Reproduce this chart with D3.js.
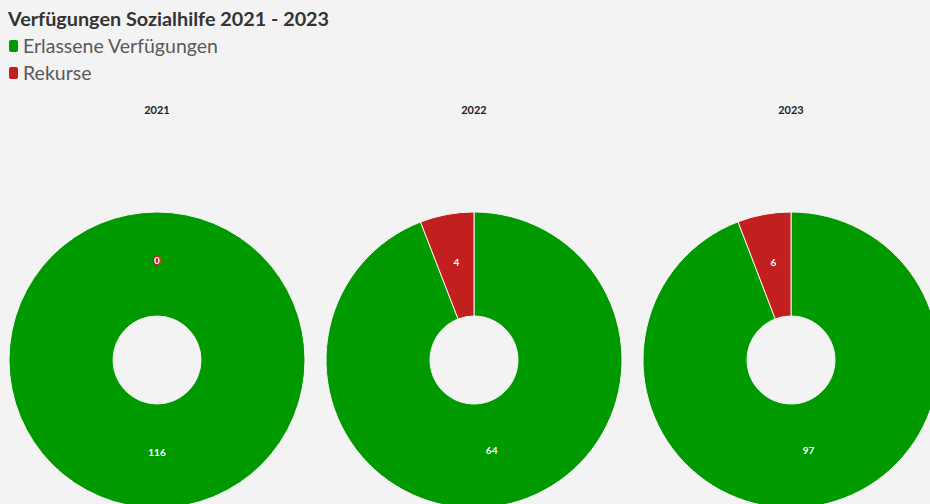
<!DOCTYPE html>
<html><head><meta charset="utf-8">
<script src="https://cdn.jsdelivr.net/npm/d3@7"></script>
<style>
html,body{margin:0;padding:0;background:#f3f3f3;overflow:hidden}
svg{display:block}
</style></head>
<body>
<svg id="chart" width="930" height="504"></svg>
<script>
const title = "Verfügungen Sozialhilfe 2021 - 2023";
const seriesNames = ["Erlassene Verfügungen", "Rekurse"];
const seriesColors = ["#009900", "#c21f1f"];
const years = ["2021", "2022", "2023"];
const erlassene = [116, 64, 97];
const rekurse = [0, 4, 6];

const svg = d3.select("#chart");
svg.append("rect").attr("width",930).attr("height",504).attr("fill","#f3f3f3");

svg.append("text").attr("x",8).attr("y",26)
  .attr("font-family","Lato, 'Open Sans', sans-serif").attr("font-weight",700)
  .attr("font-size",19.8).attr("fill","#333").text(title);

const leg = svg.append("g");
seriesNames.forEach((n,i)=>{
  const g = leg.append("g").attr("transform",`translate(8,${39+i*27})`);
  g.append("rect").attr("x",1).attr("y",1).attr("width",9).attr("height",12).attr("rx",2).attr("fill",seriesColors[i]);
  g.append("text").attr("x",15).attr("y",14).attr("font-family","Lato, 'Open Sans', sans-serif")
    .attr("font-size",19.5).attr("font-weight",400).attr("fill","#5a5a5a").text(n);
});

const x = d3.scalePoint().domain(years).range([157, 791]);
const cy = 360, R = 148, r = 44;
const pie = d3.pie().sort(null).value(d=>d.v);
const arc = d3.arc().innerRadius(r).outerRadius(R);
const labelArc = d3.arc().innerRadius((R+r)/2).outerRadius((R+r)/2);

years.forEach((y,i)=>{
  svg.append("text").attr("x",x(y)).attr("y",114).attr("text-anchor","middle")
    .attr("font-family","Lato, 'Open Sans', sans-serif").attr("font-weight",700)
    .attr("font-size",11).attr("fill","#222").text(y);
  const data = [{k:0, v:erlassene[i]},{k:1, v:rekurse[i]}];
  const arcs = pie(data);
  const g = svg.append("g").attr("transform",`translate(${x(y)},${cy})`);
  g.selectAll("path").data(arcs).enter().append("path")
    .attr("d",arc).attr("fill",d=>seriesColors[d.data.k])
    .attr("stroke","#f3f3f3").attr("stroke-width",d=>d.data.v>0?1:0);
  g.selectAll("text").data(arcs).enter().append("text")
    .attr("transform",d=>{
      let c = labelArc.centroid(d);
      if (d.data.v===0) { c = [0, -(R+r)/2]; }
      return `translate(${c[0]},${c[1]})`;
    })
    .attr("text-anchor","middle").attr("font-family","Lato, 'Open Sans', sans-serif")
    .attr("font-weight",700).attr("font-size",10).attr("fill","#fff")
    .attr("stroke",d=>seriesColors[d.data.k])
    .attr("stroke-width",d=>d.data.v===0?2.5:0).attr("paint-order","stroke")
    .text(d=>d.data.v);
});
</script>
</body></html>
